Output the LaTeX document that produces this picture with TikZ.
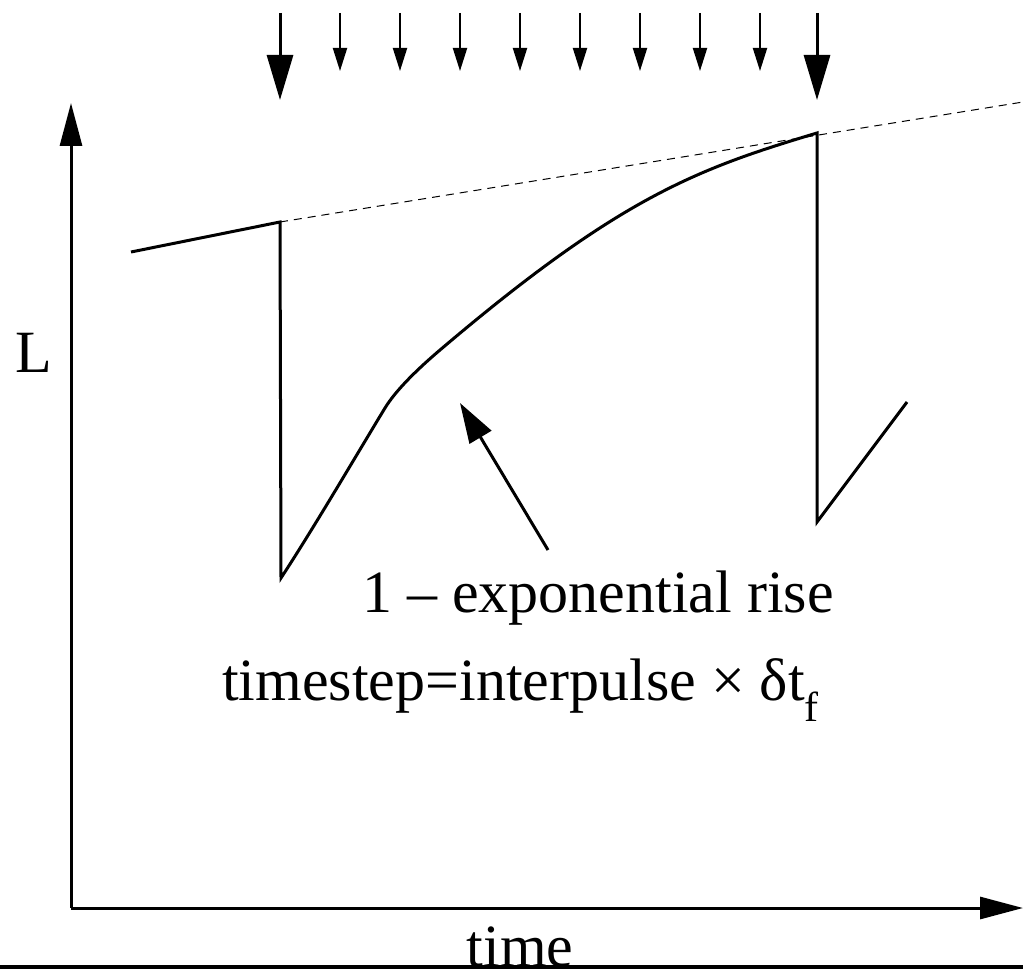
\documentclass[tikz,border=0pt]{standalone}
\usepackage{fontspec}
\setmainfont{Liberation Serif}
\usetikzlibrary{arrows.meta}
\tikzset{
  axisline/.style={line width=3pt, -{Triangle[length=43pt, width=22pt]}},
  pulse/.style={line width=2pt, -{Triangle[length=23pt, width=14pt]}},
  bigpulse/.style={line width=3pt, -{Triangle[length=45pt, width=26pt]}},
  signal/.style={line width=3pt, line join=miter},
  biglabel/.style={font=\fontsize{60}{72}\selectfont, inner sep=0pt}
}

\begin{document}
\begin{tikzpicture}[x=1pt, y=-1pt]
  \useasboundingbox (0,0) rectangle (1023,971);
  % AXES
  \coordinate (origin) at (71,908);
  \coordinate (ytop) at (71,103);
  \coordinate (xend) at (1023,908);
  \draw[axisline] (origin) -- (ytop);
  \draw[axisline] (origin) -- (xend);
  \node[biglabel, anchor=base west] (ylabel) at (15,372) {L};
  \node[biglabel, anchor=base] (xlabel) at (520,966) {time};
  \draw[line width=4pt] (0,967) -- (1023,967);
  % PULSES - top
  \foreach \x in {340,400,...,760}
    \draw[pulse] (\x,13) -- (\x,71);
  \draw[bigpulse] (280,13) -- (280,100);
  \draw[bigpulse] (817,13) -- (817,100);
  % SIGNAL
  \coordinate (start) at (131,252);
  \coordinate (peak1) at (280,222);
  \coordinate (drop1) at (281,578);
  \coordinate (bendA) at (385,408);
  \coordinate (bendB) at (440,350);
  \coordinate (peak2) at (817,133);
  \coordinate (drop2) at (817,522);
  \coordinate (finish) at (907,402);
  \draw[dash pattern=on 8pt off 6pt, line width=1pt] (peak1) -- (1023,102);
  \draw[signal] (start) -- (peak1) -- (drop1)
    .. controls (315,526) and (360,449) .. (bendA)
    .. controls (394.6,392.3) and (413,373) .. (bendB)
    .. controls (620,197) and (697,169) .. (peak2)
    -- (drop2) -- (finish);
  % LABELS
  \coordinate (risetail) at (548,550);
  \coordinate (risetip) at (460,403);
  \draw[line width=3pt, -{Triangle[length=40pt, width=25pt]}] (risetail) -- (risetip);
  \node[biglabel, anchor=base west] (riselabel) at (362,612) {1 – exponential rise};
  \node[biglabel, anchor=base west] (steplabel) at (222,700) {timestep=interpulse × δt\textsubscript{f}};
\end{tikzpicture}
\end{document}
